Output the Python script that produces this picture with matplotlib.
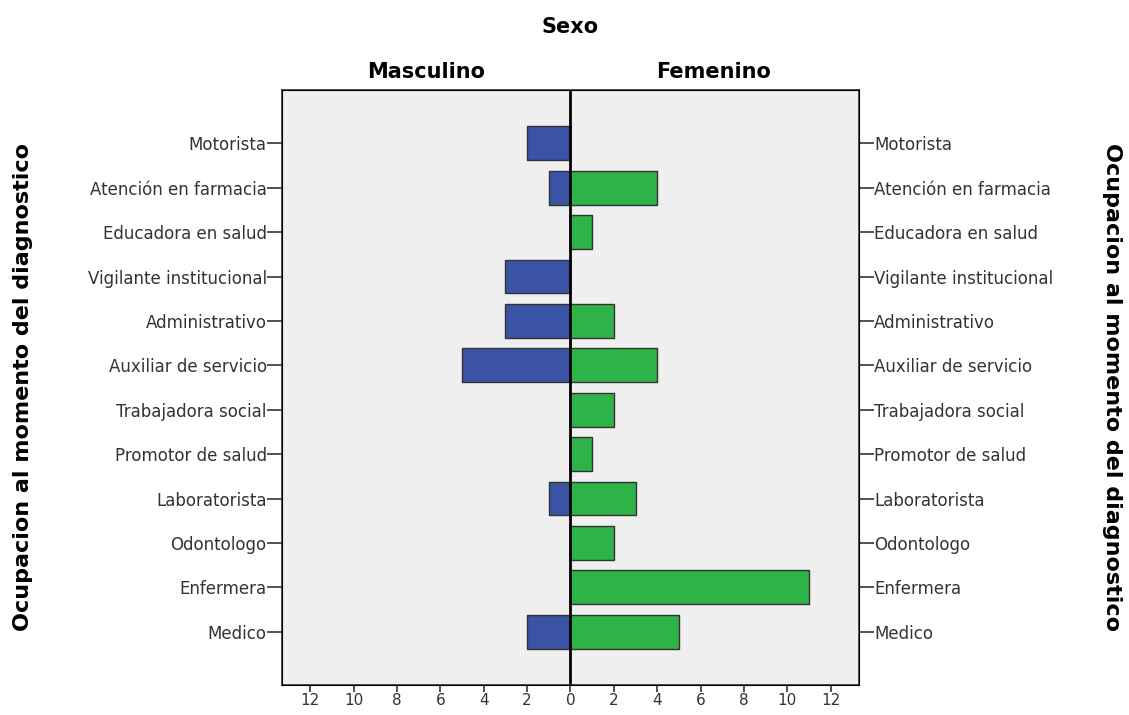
import matplotlib.pyplot as plt

categorias = ['Motorista', 'Atención en farmacia', 'Educadora en salud',
              'Vigilante institucional', 'Administrativo', 'Auxiliar de servicio',
              'Trabajadora social', 'Promotor de salud', 'Laboratorista',
              'Odontologo', 'Enfermera', 'Medico']
masculino = [2, 1, 0, 3, 3, 5, 0, 0, 1, 0, 0, 2]
femenino = [0, 4, 1, 0, 2, 4, 2, 1, 3, 2, 11, 5]
ticks = [-12, -10, -8, -6, -4, -2, 0, 2, 4, 6, 8, 10, 12]

azul = '#3A53A4'
verde = '#2EB348'

fig = plt.figure(figsize=(11.29, 7.15), dpi=100)
ax = fig.add_axes([0.2498, 0.042, 0.511, 0.832])
ax.set_facecolor('#EFEFEF')

y = list(range(len(categorias)))
ax.barh(y, [-v for v in masculino], height=0.76, color=azul, edgecolor='#333333', linewidth=1)
ax.barh(y, femenino, height=0.76, color=verde, edgecolor='#333333', linewidth=1)
ax.axvline(0, color='black', linewidth=2)

ax.set_xlim(-13.3, 13.3)
ax.set_ylim(12.2, -1.2)
ax.set_xticks(ticks)
ax.set_xticklabels([str(abs(t)) for t in ticks], fontsize=11, color='#333344')
ax.set_yticks(y)
ax.set_yticklabels(categorias, fontsize=12, color='#333333')
ax.tick_params(axis='y', length=11, width=1.2, colors='#333333', pad=0)
ax.tick_params(axis='x', length=5, width=1.2, colors='#333333', pad=1)
for s in ax.spines.values():
    s.set_linewidth(1.2)
    s.set_color('#333333')

ax2 = ax.twinx()
ax2.set_ylim(ax.get_ylim())
ax2.set_yticks(y)
ax2.set_yticklabels(categorias, fontsize=12, color='#333333')
ax2.tick_params(axis='y', length=11, width=1.2, colors='#333333', pad=0)

fig.text(0.02, 0.459, 'Ocupacion al momento del diagnostico', rotation=90,
         ha='center', va='center', fontsize=16, fontweight='bold')
fig.text(0.985, 0.459, 'Ocupacion al momento del diagnostico', rotation=270,
         ha='center', va='center', fontsize=16, fontweight='bold')
fig.text(0.505, 0.962, 'Sexo', ha='center', va='center', fontsize=15, fontweight='bold')
fig.text(0.377, 0.899, 'Masculino', ha='center', va='center', fontsize=15, fontweight='bold')
fig.text(0.632, 0.899, 'Femenino', ha='center', va='center', fontsize=15, fontweight='bold')

fig.savefig('out.png', dpi=100)
